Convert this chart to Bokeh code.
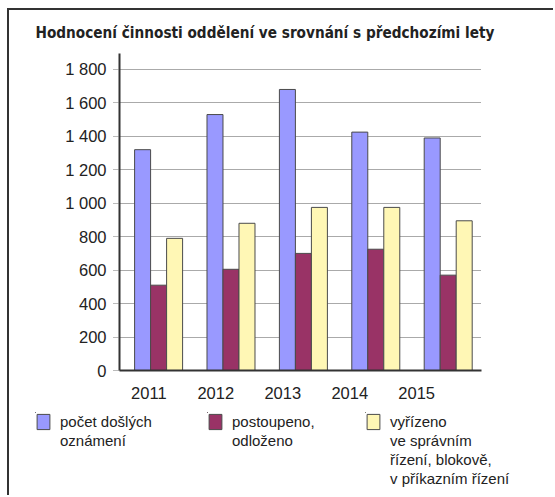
from bokeh.plotting import figure
from bokeh.layouts import column, row
from bokeh.models import Range1d, FixedTicker, Legend, LegendItem, Title
from bokeh.embed import file_html
from bokeh.resources import INLINE

# ---- data ----
years = ["2011", "2012", "2013", "2014", "2015"]
pocet_doslych = [1320, 1530, 1680, 1425, 1390]
postoupeno = [510, 605, 700, 725, 570]
vyrizeno = [790, 880, 975, 975, 895]
y_ticks = [0, 200, 400, 600, 800, 1000, 1200, 1400, 1600, 1800]
series_labels = [
    "počet došlých\noznámení",
    "postoupeno,\nodloženo",
    "vyřízeno\nve správním\nřízení, blokově,\nv příkazním řízení",
]
title_text = "Hodnocení činnosti oddělení ve srovnání s předchozími lety"

# ---- style ----
colors = ["#9999FF", "#993366", "#FFF7B5"]
edge = "#4a4a4a"
bar_w = 0.221
offsets = [-bar_w, 0.0, bar_w]
series = [pocet_doslych, postoupeno, vyrizeno]

p = figure(frame_width=362, frame_height=317, output_backend="svg", toolbar_location=None,
           x_range=Range1d(-0.54, 4.46), y_range=Range1d(0, 1895),
           min_border_left=110, min_border_right=72,
           min_border_top=43, min_border_bottom=30,
           outline_line_color=None, background_fill_color="white",
           border_fill_color="white")

xs = list(range(len(years)))
for vals, col, off in zip(series, colors, offsets):
    p.vbar(x=[x + off for x in xs], top=vals, width=bar_w, bottom=0,
           fill_color=col, line_color=edge, line_width=1)

# title
p.title = Title(text=title_text, align="left", offset=-84, standoff=23,
                text_font="DejaVu Sans Condensed", text_font_style="bold",
                text_font_size="15.2px", text_color="#222222")

# y axis
p.yaxis.ticker = FixedTicker(ticks=y_ticks)
p.yaxis.major_label_overrides = {v: f"{v:,}".replace(",", " ") for v in y_ticks}
p.yaxis.axis_line_color = "#333333"
p.yaxis.axis_line_width = 2
p.yaxis.major_tick_in = 0
p.yaxis.major_tick_out = 6
p.yaxis.major_tick_line_color = "#777777"
p.yaxis.major_tick_line_dash = "1 1"
p.yaxis.minor_tick_line_color = None
p.yaxis.major_label_standoff = 7
p.yaxis.major_label_text_font = "Liberation Sans"
p.yaxis.major_label_text_font_size = "16.5px"
p.yaxis.major_label_text_color = "#222222"

# x axis (labels as in the original, drifting left of the bar groups)
label_pos = [i * 0.925 - 0.135 for i in xs]
p.xaxis.ticker = FixedTicker(ticks=label_pos)
p.xaxis.major_label_overrides = {pos: y for pos, y in zip(label_pos, years)}
p.xaxis.axis_line_color = "#333333"
p.xaxis.axis_line_width = 2
p.xaxis.major_tick_line_color = None
p.xaxis.minor_tick_line_color = None
p.xaxis.major_label_standoff = 10
p.xaxis.major_label_text_font = "Liberation Sans"
p.xaxis.major_label_text_font_size = "16.5px"
p.xaxis.major_label_text_color = "#222222"

# grid
p.xgrid.grid_line_color = None
p.ygrid.ticker = FixedTicker(ticks=y_ticks)
p.ygrid.grid_line_color = "#555555"
p.ygrid.grid_line_dash = "1 1"
p.ygrid.grid_line_width = 1

# legend: one small figure per series, each with a top-aligned vertical legend
legend_widths = [198, 158, 188]
legend_left = [26, 0, 0]
legend_figs = []
for vals, col, lab, w, ml in zip(series, colors, series_labels, legend_widths, legend_left):
    f = figure(width=w, height=94, output_backend="svg", toolbar_location=None,
               x_range=Range1d(100, 101), y_range=Range1d(-101, -100),
               x_axis_type=None, y_axis_type=None,
               min_border_left=ml, min_border_top=11, min_border_right=0, min_border_bottom=0,
               outline_line_color=None, background_fill_color="white",
               border_fill_color="white")
    f.grid.visible = False
    swatch = f.vbar(x=xs, top=vals, width=bar_w, fill_color=col, line_color=edge, line_width=1)
    blank = f.vbar(x=xs, top=vals, width=bar_w, fill_alpha=0, line_alpha=0)
    lines = lab.split("\n")
    items = [LegendItem(label=lines[0], renderers=[swatch])]
    items += [LegendItem(label=ln, renderers=[blank]) for ln in lines[1:]]
    lg = Legend(items=items, orientation="vertical", location="top_left",
                glyph_width=16, glyph_height=19, label_height=18, label_standoff=9,
                spacing=0, padding=0, margin=0, border_line_color=None,
                background_fill_alpha=0,
                label_text_font="Liberation Sans", label_text_font_size="15px",
                label_text_color="#222222")
    f.add_layout(lg, "center")
    legend_figs.append(f)

layout = column(p, row(*legend_figs, spacing=0), spacing=0)
layout.styles = {"border-top": "2px solid #333333", "border-left": "2px solid #333333",
                 "margin-left": "7px", "margin-top": "8px"}

open("out.html", "w").write(file_html(layout, INLINE))
